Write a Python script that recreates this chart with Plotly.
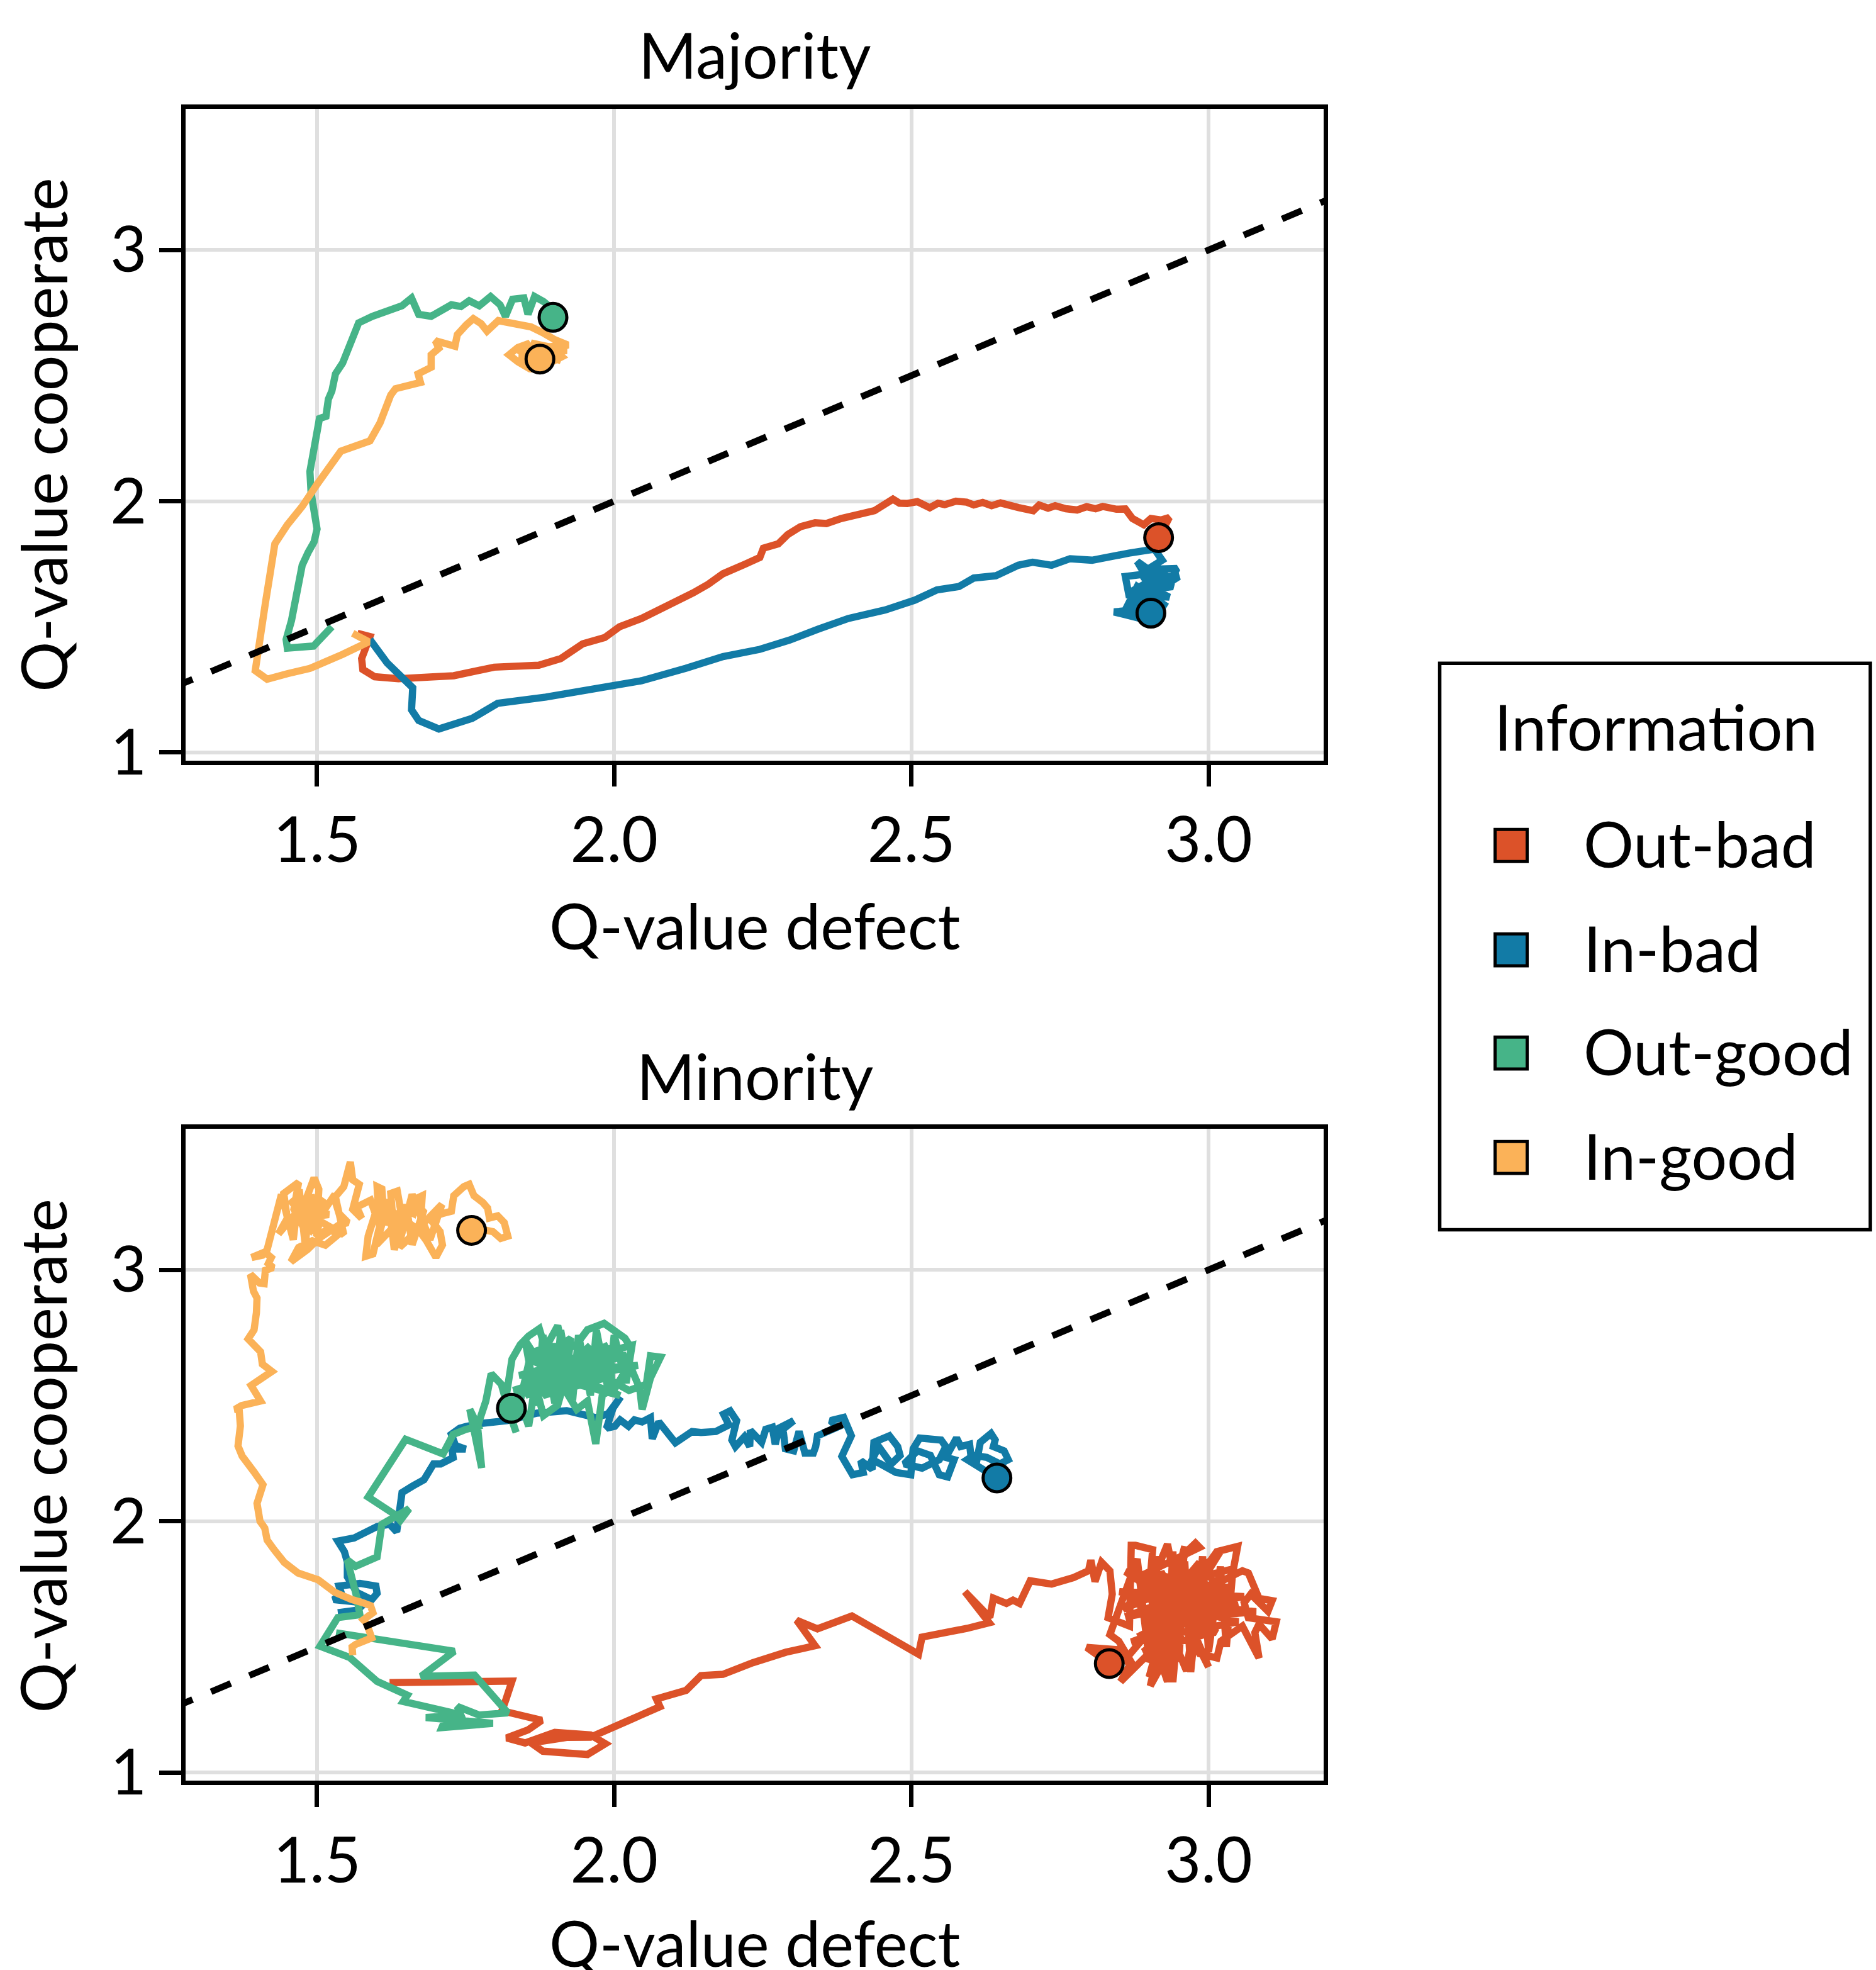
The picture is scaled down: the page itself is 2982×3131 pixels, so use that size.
import plotly.graph_objects as go

FONT = "Lato"
FS = 100

# ---------------- colours / labels ----------------
labels = ["Out-bad", "In-bad", "Out-good", "In-good"]
colors = {"Out-bad": "#dc5229", "In-bad": "#127ba6", "Out-good": "#46b488", "In-good": "#fbb258"}

# ---------------- axis settings ----------------
x_range = [1.2788, 3.1937]
y_range = [0.9674, 3.5623]
x_ticks = [1.5, 2.0, 2.5, 3.0]
y_ticks = [1, 2, 3]
diag_vals = [1.0, 3.5]  # reference line y = x

# ================= Majority =================
maj_out_bad_x = [1.568, 1.589, 1.575, 1.577, 1.597, 1.637, 1.690, 1.730, 1.798, 1.873, 1.910, 1.947, 1.984, 2.009,
                 2.046, 2.084, 2.108, 2.133, 2.158, 2.183, 2.220, 2.245, 2.251, 2.276, 2.292, 2.313, 2.338, 2.357,
                 2.382, 2.413, 2.438, 2.469, 2.480, 2.493, 2.510, 2.531, 2.545, 2.556, 2.575, 2.593, 2.605, 2.620,
                 2.635, 2.650, 2.667, 2.680, 2.705, 2.715, 2.730, 2.742, 2.760, 2.779, 2.795, 2.810, 2.822, 2.845,
                 2.860, 2.872, 2.891, 2.903, 2.920, 2.934, 2.926, 2.916]
maj_out_bad_y = [1.474, 1.461, 1.373, 1.330, 1.301, 1.293, 1.300, 1.305, 1.339, 1.347, 1.373, 1.432, 1.457, 1.500,
                 1.533, 1.576, 1.606, 1.635, 1.669, 1.711, 1.749, 1.776, 1.813, 1.830, 1.867, 1.898, 1.914, 1.911,
                 1.931, 1.948, 1.962, 2.008, 1.992, 1.991, 1.998, 1.974, 1.992, 1.986, 2.000, 1.996, 1.985, 1.995,
                 1.982, 1.993, 1.986, 1.975, 1.962, 1.985, 1.972, 1.982, 1.970, 1.965, 1.978, 1.970, 1.979, 1.968,
                 1.969, 1.931, 1.906, 1.931, 1.925, 1.935, 1.898, 1.855]

maj_in_bad_x = [1.589, 1.618, 1.661, 1.659, 1.671, 1.705, 1.761, 1.804, 1.885, 1.959, 2.046, 2.121, 2.183, 2.245,
                2.295, 2.344, 2.394, 2.456, 2.506, 2.543, 2.580, 2.605, 2.642, 2.680, 2.704, 2.736, 2.767, 2.804,
                2.829, 2.866, 2.909, 2.922, 2.897, 2.947, 2.934, 2.891, 2.934, 2.866,
                2.860, 2.930, 2.870, 2.940, 2.880, 2.920, 2.890, 2.950, 2.870, 2.910, 2.900, 2.930, 2.880,
                2.860, 2.916, 2.841, 2.885, 2.903]
maj_in_bad_y = [1.449, 1.356, 1.257, 1.169, 1.127, 1.093, 1.135, 1.195, 1.220, 1.251, 1.285, 1.335, 1.381, 1.410,
                1.447, 1.491, 1.533, 1.567, 1.606, 1.647, 1.660, 1.694, 1.703, 1.745, 1.757, 1.745, 1.771, 1.765,
                1.779, 1.793, 1.809, 1.765, 1.728, 1.732, 1.677, 1.669, 1.618, 1.627,
                1.700, 1.720, 1.640, 1.660, 1.760, 1.600, 1.700, 1.700, 1.580, 1.740, 1.620, 1.580, 1.660,
                1.567, 1.576, 1.559, 1.533, 1.554]

maj_out_good_x = [1.525, 1.506, 1.494, 1.450, 1.448, 1.457, 1.463, 1.466, 1.475, 1.485, 1.495, 1.500, 1.495, 1.490,
                  1.488, 1.495, 1.501, 1.504, 1.515, 1.519, 1.525, 1.531, 1.543, 1.552, 1.562, 1.570, 1.593, 1.612,
                  1.630, 1.643, 1.659, 1.671, 1.692, 1.711, 1.726, 1.742, 1.756, 1.773, 1.792, 1.808, 1.817, 1.829,
                  1.848, 1.855, 1.866, 1.881, 1.891, 1.897]
maj_out_good_y = [1.500, 1.457, 1.423, 1.415, 1.449, 1.525, 1.593, 1.660, 1.745, 1.796, 1.838, 1.889, 1.965, 2.033,
                  2.118, 2.219, 2.287, 2.329, 2.338, 2.406, 2.439, 2.507, 2.550, 2.600, 2.660, 2.710, 2.736, 2.753,
                  2.765, 2.778, 2.809, 2.744, 2.736, 2.758, 2.782, 2.775, 2.798, 2.778, 2.815, 2.782, 2.736, 2.804,
                  2.809, 2.744, 2.815, 2.795, 2.775, 2.732]

maj_in_good_x = [1.560, 1.587, 1.543, 1.488, 1.450, 1.416, 1.396, 1.403, 1.413, 1.421, 1.429, 1.450, 1.475, 1.500,
                 1.521, 1.540, 1.589, 1.606, 1.624, 1.632, 1.674, 1.670, 1.692, 1.692, 1.705, 1.699, 1.732, 1.736,
                 1.751, 1.763, 1.776, 1.786, 1.805, 1.835, 1.860, 1.882, 1.900, 1.922, 1.900, 1.912, 1.891, 1.882,
                 1.858, 1.838, 1.823, 1.838, 1.858, 1.845,
                 1.840, 1.910, 1.850, 1.900, 1.860, 1.920, 1.840, 1.890, 1.870, 1.910, 1.860,
                 1.866, 1.875]
maj_in_good_y = [1.474, 1.440, 1.390, 1.334, 1.313, 1.291, 1.325, 1.457, 1.593, 1.711, 1.830, 1.906, 1.979, 2.067,
                 2.135, 2.199, 2.240, 2.312, 2.423, 2.448, 2.473, 2.507, 2.533, 2.583, 2.609, 2.639, 2.617, 2.663,
                 2.702, 2.727, 2.707, 2.677, 2.719, 2.707, 2.694, 2.668, 2.643, 2.622, 2.600, 2.575, 2.550, 2.524,
                 2.527, 2.555, 2.583, 2.612, 2.629, 2.592,
                 2.600, 2.620, 2.560, 2.580, 2.630, 2.600, 2.570, 2.540, 2.620, 2.560, 2.590,
                 2.575, 2.566]

# ================= Minority =================
min_out_bad_x = [1.622, 1.828, 1.818, 1.811, 1.878, 1.855, 1.819, 1.850, 1.900, 1.960, 1.985, 1.955, 1.880, 1.860,
                 1.920, 1.960, 2.022, 2.077, 2.071, 2.121, 2.146, 2.183, 2.233, 2.257, 2.289, 2.338, 2.313, 2.307,
                 2.342, 2.400, 2.512, 2.518, 2.594, 2.631, 2.590, 2.632, 2.638, 2.660, 2.671, 2.682, 2.700, 2.736,
                 2.773, 2.798, 2.802, 2.809, 2.820, 2.834, 2.838, 2.831, 2.867, 2.870, 2.877, 2.906, 2.899, 2.856,
                 2.870, 2.917, 2.931, 2.942, 2.963, 2.978, 2.985, 2.881, 3.021, 2.881, 3.035, 2.899, 3.014, 2.881,
                 3.049, 2.917, 2.985, 2.928, 2.963, 2.949, 2.924, 2.902, 2.913, 2.935, 2.981, 3.014, 3.049, 3.042,
                 2.999, 3.014, 3.057, 3.067, 3.085, 3.107, 3.100, 3.071, 3.060, 3.067, 3.114, 3.107, 3.085, 3.078,
                 3.085, 3.071, 3.057, 3.021, 3.014, 2.985, 2.971, 2.963, 2.942, 2.931, 2.920, 2.892, 2.852, 2.870,
                 2.849, 2.834,
                 2.880, 2.900, 2.910, 2.930, 2.940, 2.950, 2.960, 2.970, 2.990, 3.000, 3.020, 3.030, 3.040, 2.860,
                 3.060, 2.850, 3.050, 2.870, 3.030, 2.860, 3.010, 2.890, 3.040, 2.880, 3.080, 2.890, 3.020, 2.920,
                 2.980, 2.900, 2.960, 2.940, 2.920, 3.000, 2.950, 2.860,
                 2.845, 2.795, 2.833]
min_out_bad_y = [1.358, 1.364, 1.292, 1.246, 1.208, 1.170, 1.138, 1.118, 1.160, 1.150, 1.115, 1.072, 1.085, 1.118,
                 1.140, 1.141, 1.205, 1.262, 1.293, 1.327, 1.386, 1.391, 1.437, 1.454, 1.479, 1.505, 1.581, 1.606,
                 1.572, 1.623, 1.471, 1.539, 1.574, 1.596, 1.720, 1.617, 1.694, 1.673, 1.686, 1.673, 1.763, 1.750,
                 1.776, 1.803, 1.845, 1.760, 1.837, 1.803, 1.710, 1.616, 1.583, 1.904, 1.904, 1.887, 1.693, 1.650,
                 1.676, 1.828, 1.909, 1.777, 1.879, 1.913, 1.896, 1.777, 1.659, 1.540, 1.727, 1.794, 1.557, 1.650,
                 1.676, 1.557, 1.837, 1.676, 1.727, 1.608, 1.439, 1.345, 1.456, 1.591, 1.769, 1.879, 1.900, 1.811,
                 1.786, 1.752, 1.803, 1.794, 1.693, 1.684, 1.642, 1.710, 1.676, 1.616, 1.600, 1.532, 1.591, 1.557,
                 1.456, 1.523, 1.583, 1.523, 1.456, 1.473, 1.532, 1.405, 1.523, 1.362, 1.439, 1.456, 1.362, 1.439,
                 1.523, 1.549,
                 1.850, 1.450, 1.860, 1.420, 1.880, 1.440, 1.840, 1.400, 1.860, 1.480, 1.820, 1.500, 1.780, 1.620,
                 1.700, 1.720, 1.600, 1.520, 1.660, 1.800, 1.560, 1.480, 1.740, 1.700, 1.640, 1.600, 1.880, 1.500,
                 1.760, 1.380, 1.900, 1.360, 1.800, 1.420, 1.700, 1.450,
                 1.489, 1.498, 1.434]

min_in_bad_x = [1.535, 1.567, 1.581, 1.528, 1.541, 1.537, 1.572, 1.599, 1.601, 1.592, 1.567, 1.551, 1.551, 1.546,
                1.535, 1.562, 1.601, 1.622, 1.634, 1.636, 1.643, 1.661, 1.680, 1.696, 1.708, 1.729, 1.727, 1.750,
                1.733, 1.726, 1.740, 1.751, 1.779, 1.820, 1.870, 1.920, 1.955, 1.969, 1.990, 2.011, 1.998, 1.987,
                2.001, 2.010, 2.024, 2.034, 2.047, 2.061, 2.064, 2.075, 2.087, 2.103, 2.131, 2.146, 2.171, 2.193,
                2.184, 2.195, 2.206, 2.198, 2.204, 2.219, 2.228, 2.229, 2.248, 2.255, 2.266, 2.271, 2.277, 2.302,
                2.284, 2.288, 2.302, 2.311, 2.321, 2.335, 2.339, 2.342, 2.375, 2.364, 2.386, 2.399, 2.383, 2.401,
                2.419, 2.415, 2.434, 2.437, 2.463, 2.477, 2.481, 2.466, 2.445, 2.434, 2.448, 2.474, 2.499, 2.503,
                2.514, 2.550, 2.558, 2.547, 2.518, 2.488, 2.510, 2.532, 2.547, 2.561, 2.572, 2.558, 2.576, 2.583,
                2.598, 2.601, 2.609, 2.616, 2.634, 2.641, 2.638, 2.656, 2.663, 2.649, 2.627, 2.605, 2.594, 2.613,
                2.644]
min_in_bad_y = [1.636, 1.646, 1.675, 1.688, 1.713, 1.742, 1.753, 1.742, 1.713, 1.688, 1.717, 1.779, 1.838, 1.879,
                1.921, 1.933, 1.979, 1.988, 1.958, 2.000, 2.114, 2.140, 2.165, 2.228, 2.228, 2.253, 2.287, 2.287,
                2.301, 2.346, 2.370, 2.377, 2.390, 2.400, 2.430, 2.440, 2.420, 2.412, 2.428, 2.495, 2.450, 2.370,
                2.378, 2.403, 2.378, 2.403, 2.395, 2.412, 2.328, 2.395, 2.362, 2.312, 2.357, 2.353, 2.357, 2.383,
                2.426, 2.439, 2.400, 2.323, 2.297, 2.336, 2.297, 2.361, 2.314, 2.366, 2.374, 2.306, 2.370, 2.400,
                2.366, 2.288, 2.280, 2.357, 2.271, 2.271, 2.297, 2.340, 2.374, 2.400, 2.413, 2.340, 2.258, 2.185,
                2.194, 2.241, 2.207, 2.314, 2.340, 2.297, 2.262, 2.228, 2.297, 2.245, 2.228, 2.194, 2.185, 2.288,
                2.331, 2.323, 2.297, 2.245, 2.211, 2.228, 2.280, 2.262, 2.185, 2.176, 2.245, 2.254, 2.331, 2.297,
                2.306, 2.245, 2.228, 2.314, 2.349, 2.323, 2.297, 2.280, 2.245, 2.228, 2.254, 2.262, 2.245, 2.219,
                2.172]

min_out_good_x = [1.532, 1.590, 1.731, 1.675, 1.765, 1.821, 1.773, 1.736, 1.742, 1.683, 1.796, 1.710, 1.713, 1.728,
                  1.645, 1.652, 1.601, 1.555, 1.505, 1.535, 1.572, 1.567, 1.551, 1.565, 1.601, 1.609, 1.636, 1.655,
                  1.640, 1.632, 1.586, 1.649, 1.712, 1.729, 1.750, 1.771, 1.757, 1.777, 1.770, 1.784, 1.793, 1.810,
                  1.824, 1.835, 1.817, 1.828, 1.842, 1.856, 1.874, 1.884, 1.905, 1.912, 1.927, 1.920, 1.905, 1.881,
                  1.867, 1.856, 1.842, 1.860, 1.891, 1.934, 1.955, 1.983, 2.018, 2.029, 2.018, 2.001, 1.980, 1.969,
                  1.955, 1.937, 1.920, 1.891, 1.874, 1.950, 1.870, 1.990, 1.900, 1.960, 1.880, 2.000, 1.905, 1.948,
                  1.976, 2.004, 2.025, 2.043, 2.047, 2.061, 2.078, 2.061, 2.054, 2.025, 1.990, 1.962, 1.937, 1.912,
                  1.884,
                  1.850, 1.870, 1.880, 1.900, 1.910, 1.930, 1.940, 1.960, 1.970, 1.990, 2.000, 2.020, 2.030, 1.840,
                  2.040, 1.830, 2.020, 1.860, 2.010, 1.880, 1.990, 1.850, 1.960, 1.890, 1.950, 1.920, 1.860,
                  1.856, 1.842, 1.827]
min_out_good_y = [1.556, 1.533, 1.483, 1.383, 1.388, 1.238, 1.229, 1.263, 1.229, 1.219, 1.196, 1.179, 1.196, 1.238,
                  1.283, 1.308, 1.363, 1.458, 1.503, 1.617, 1.628, 1.696, 1.846, 1.821, 1.858, 1.988, 2.023, 2.050,
                  2.003, 2.025, 2.096, 2.326, 2.268, 2.345, 2.365, 2.378, 2.445, 2.212, 2.378, 2.478, 2.587, 2.545,
                  2.428, 2.353, 2.478, 2.645, 2.703, 2.737, 2.766, 2.687, 2.778, 2.703, 2.728, 2.587, 2.462, 2.420,
                  2.545, 2.378, 2.478, 2.670, 2.695, 2.695, 2.762, 2.787, 2.728, 2.687, 2.595, 2.528, 2.503, 2.308,
                  2.478, 2.445, 2.512, 2.545, 2.612, 2.550, 2.660, 2.620, 2.560, 2.700, 2.500, 2.580, 2.628, 2.653,
                  2.695, 2.678, 2.628, 2.528, 2.445, 2.570, 2.653, 2.658, 2.545, 2.520, 2.570, 2.603, 2.553, 2.587,
                  2.595,
                  2.720, 2.460, 2.740, 2.470, 2.760, 2.480, 2.740, 2.500, 2.760, 2.520, 2.740, 2.550, 2.700, 2.580,
                  2.620, 2.520, 2.660, 2.640, 2.500, 2.580, 2.700, 2.500, 2.620, 2.680, 2.560, 2.660, 2.560,
                  2.570, 2.512, 2.449]

min_in_good_x = [1.560, 1.559, 1.565, 1.592, 1.583, 1.578, 1.594, 1.590, 1.578, 1.558, 1.530, 1.502, 1.468, 1.445,
                 1.428, 1.416, 1.412, 1.404, 1.399, 1.409, 1.394, 1.386, 1.374, 1.367, 1.371, 1.369, 1.362, 1.373,
                 1.405, 1.389, 1.424, 1.408, 1.405, 1.384, 1.394, 1.398, 1.399, 1.393, 1.388, 1.403, 1.411, 1.413,
                 1.426, 1.418, 1.423, 1.412, 1.390, 1.408, 1.416,
                 1.440, 1.460, 1.470, 1.480, 1.490, 1.500, 1.510, 1.450, 1.520, 1.460, 1.500,
                 1.455, 1.490, 1.530, 1.545, 1.470,
                 1.435, 1.450, 1.444, 1.469, 1.461, 1.477, 1.495,
                 1.478, 1.495, 1.503, 1.499, 1.518, 1.537, 1.514, 1.492, 1.469, 1.456, 1.484, 1.503, 1.537, 1.552,
                 1.537, 1.529, 1.545, 1.556, 1.560, 1.571, 1.560, 1.575, 1.567, 1.590, 1.598, 1.586, 1.582, 1.594,
                 1.605, 1.601, 1.609, 1.613, 1.628, 1.624, 1.635, 1.643,
                 1.600, 1.620, 1.630, 1.650, 1.660, 1.680, 1.600, 1.670,
                 1.610, 1.640, 1.660, 1.690, 1.710,
                 1.647, 1.639, 1.643, 1.654, 1.662, 1.669,
                 1.677, 1.673, 1.684, 1.692, 1.700, 1.711, 1.707, 1.692, 1.700, 1.711, 1.726, 1.730, 1.747, 1.756,
                 1.764, 1.779, 1.787, 1.790, 1.804, 1.815, 1.821, 1.809, 1.796, 1.777, 1.760]
min_in_good_y = [1.467, 1.500, 1.510, 1.536, 1.596, 1.608, 1.636, 1.664, 1.675, 1.689, 1.717, 1.767, 1.794, 1.836,
                 1.886, 1.925, 1.973, 2.000, 2.071, 2.145, 2.196, 2.223, 2.259, 2.299, 2.379, 2.442, 2.445, 2.460,
                 2.478, 2.540, 2.596, 2.625, 2.674, 2.725, 2.761, 2.830, 2.888, 2.915, 2.982, 2.948, 2.945, 2.998,
                 3.009, 3.025, 3.049, 3.071, 3.049, 3.058, 3.080,
                 3.300, 3.120, 3.320, 3.100, 3.300, 3.140, 3.280, 3.200, 3.220, 3.260, 3.180,
                 3.280, 3.160, 3.300, 3.140, 3.240,
                 3.143, 3.205, 3.304, 3.348, 3.241, 3.170, 3.196,
                 3.259, 3.366, 3.321, 3.134, 3.161, 3.143, 3.098, 3.116, 3.089, 3.032, 3.081, 3.125, 3.179, 3.188,
                 3.224, 3.286, 3.331, 3.429, 3.358, 3.340, 3.241, 3.205, 3.250, 3.277, 3.224, 3.134, 3.054, 3.063,
                 3.170, 3.331, 3.322, 3.197, 3.188, 3.304, 3.313, 3.206,
                 3.100, 3.280, 3.080, 3.260, 3.100, 3.240, 3.200, 3.160,
                 3.260, 3.120, 3.300, 3.120, 3.260,
                 3.107, 3.090, 3.170, 3.233, 3.224, 3.286,
                 3.295, 3.152, 3.116, 3.081, 3.050, 3.099, 3.152, 3.197, 3.215, 3.224, 3.233, 3.295, 3.331, 3.340,
                 3.295, 3.268, 3.246, 3.206, 3.215, 3.188, 3.134, 3.125, 3.152, 3.161, 3.157]

majority = {
    "Out-bad": (maj_out_bad_x, maj_out_bad_y),
    "In-bad": (maj_in_bad_x, maj_in_bad_y),
    "Out-good": (maj_out_good_x, maj_out_good_y),
    "In-good": (maj_in_good_x, maj_in_good_y),
}
minority = {
    "Out-bad": (min_out_bad_x, min_out_bad_y),
    "In-bad": (min_in_bad_x, min_in_bad_y),
    "Out-good": (min_out_good_x, min_out_good_y),
    "In-good": (min_in_good_x, min_in_good_y),
}

fig = go.Figure()

for data, xa, ya in [(majority, "x", "y"), (minority, "x2", "y2")]:
    for lab in labels:
        xs, ys = data[lab]
        fig.add_trace(go.Scatter(x=xs, y=ys, mode="lines", xaxis=xa, yaxis=ya, showlegend=False,
                                 line=dict(color=colors[lab], width=11.5), hoverinfo="skip"))
    fig.add_trace(go.Scatter(x=diag_vals, y=diag_vals, mode="lines", xaxis=xa, yaxis=ya, showlegend=False,
                             line=dict(color="black", width=10.5, dash="34px,32px"), hoverinfo="skip"))
    for lab in labels:
        xs, ys = data[lab]
        fig.add_trace(go.Scatter(x=[xs[-1]], y=[ys[-1]], mode="markers", xaxis=xa, yaxis=ya, showlegend=False,
                                 marker=dict(color=colors[lab], size=44, line=dict(color="black", width=5)),
                                 hoverinfo="skip"))

axis_common = dict(showline=True, linecolor="black", linewidth=6.5, mirror=True,
                   ticks="outside", ticklen=35, tickwidth=6.5, tickcolor="black",
                   showgrid=True, gridcolor="#dfdfdf", gridwidth=6, zeroline=False,
                   tickfont=dict(family=FONT, size=FS, color="black"))

xdom = [0.098927, 0.705567]
top_dom = [0.60858, 0.94399]
bot_dom = [0.08345, 0.41918]

fig.update_layout(
    width=2982, height=3131,
    margin=dict(l=0, r=0, t=0, b=0),
    paper_bgcolor="white", plot_bgcolor="white",
    font=dict(family=FONT, size=FS, color="black"),
    showlegend=False,
    xaxis=dict(domain=xdom, range=x_range, tickvals=x_ticks, tickformat=".1f", anchor="y", **axis_common),
    yaxis=dict(domain=top_dom, range=y_range, tickvals=y_ticks, anchor="x", **axis_common),
    xaxis2=dict(domain=xdom, range=x_range, tickvals=x_ticks, tickformat=".1f", anchor="y2", **axis_common),
    yaxis2=dict(domain=bot_dom, range=y_range, tickvals=y_ticks, anchor="x2", **axis_common),
)

ann = []
def txt(text, x, y, xanchor="center", angle=0):
    ann.append(dict(text=text, x=x, y=y, xref="paper", yref="paper", xanchor=xanchor, yanchor="middle",
                    showarrow=False, textangle=angle, font=dict(family=FONT, size=FS, color="black")))

txt("Majority", 0.40225, 0.97221)
txt("Minority", 0.40225, 0.44650)
txt("Q-value defect", 0.40225, 0.52411)
txt("Q-value defect", 0.40225, 0.0003)
txt("Q-value cooperate", 0.02280, 0.77627, angle=-90)
txt("Q-value cooperate", 0.02280, 0.25081, angle=-90)
txt("Information", 0.8825, 0.62632)

# ---------------- manual legend ----------------
leg_x_swatch = 0.8055
leg_x_text = 0.8434
leg_y = [0.56487, 0.51112, 0.45803, 0.40428]
leg_text_y = [0.56615, 0.51239, 0.45931, 0.40556]
sw_half_w = 25.5 / 2982
sw_half_h = 25.8 / 3131
for lab, yy, ty in zip(labels, leg_y, leg_text_y):
    txt(lab, leg_x_text, ty, xanchor="left")
    fig.add_shape(type="rect", xref="paper", yref="paper",
                  x0=leg_x_swatch - sw_half_w, x1=leg_x_swatch + sw_half_w,
                  y0=yy - sw_half_h, y1=yy + sw_half_h,
                  line=dict(color="black", width=5), fillcolor=colors[lab])
fig.update_layout(annotations=ann)

fig.add_shape(type="rect", xref="paper", yref="paper", x0=0.76744, x1=0.99698, y0=0.36707, y1=0.65861,
              line=dict(color="black", width=5.5), fillcolor="rgba(0,0,0,0)")

fig.write_html("out.html")
